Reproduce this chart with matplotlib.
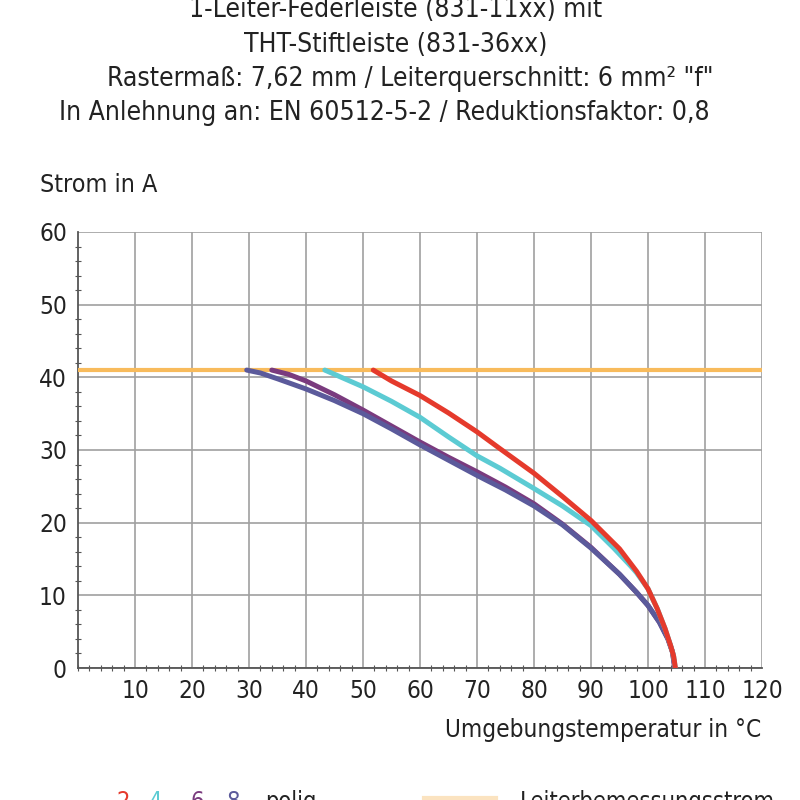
import matplotlib.pyplot as plt
from matplotlib.ticker import MultipleLocator

plt.rcParams['font.family'] = ['DejaVu Sans']
plt.rcParams['font.stretch'] = 'condensed'

# curve data (temperature in degC, current in A)
t_2pol = [51.8, 55, 60, 65, 70, 74, 80, 85, 90, 95, 98, 100, 101.6, 103, 104, 104.5, 104.8]
i_2pol = [41.0, 39.5, 37.5, 35.1, 32.5, 30.2, 26.8, 23.6, 20.3, 16.4, 13.3, 10.9, 8.2, 5.4, 3.0, 1.6, 0.0]

t_4pol = [43.3, 50, 55, 60, 65, 70, 74, 80, 85, 90, 94, 97, 98, 100, 101.6, 103, 104, 104.5, 104.8]
i_4pol = [41.0, 38.7, 36.7, 34.5, 31.8, 29.2, 27.5, 24.7, 22.3, 19.6, 16.5, 14.0, 13.1, 10.9, 8.2, 5.4, 3.0, 1.6, 0.0]

t_6pol = [34, 37, 40, 45, 50, 55, 60, 65, 70, 75, 80, 85, 90, 95, 98, 100, 102, 103.5, 104.3, 104.7]
i_6pol = [41.0, 40.4, 39.5, 37.6, 35.5, 33.3, 31.1, 29.0, 27.0, 24.9, 22.6, 19.8, 16.6, 12.9, 10.4, 8.6, 6.3, 4.0, 2.2, 0.0]

t_8pol = [29.6, 32, 35, 40, 45, 50, 55, 60, 65, 70, 75, 80, 85, 90, 95, 98, 100, 102, 103.5, 104.3, 104.7]
i_8pol = [41.0, 40.6, 39.8, 38.4, 36.8, 35.0, 32.9, 30.7, 28.6, 26.5, 24.5, 22.3, 19.7, 16.5, 12.9, 10.4, 8.6, 6.3, 4.0, 2.2, 0.0]

t_nenn = [0, 120]
i_nenn = [41, 41]

x_ticks = [10, 20, 30, 40, 50, 60, 70, 80, 90, 100, 110, 120]
y_ticks = [0, 10, 20, 30, 40, 50, 60]

title_lines = [
    '1-Leiter-Federleiste (831-11xx) mit',
    'THT-Stiftleiste (831-36xx)',
    'Rastermaß: 7,62 mm / Leiterquerschnitt: 6 mm² "f"',
    'In Anlehnung an: EN 60512-5-2 / Reduktionsfaktor: 0,8',
]
title_x = [0.494, 0.494, 0.5125, 0.48]
title_y = [0.988, 0.944, 0.901, 0.859]

c_red = '#e53a2c'
c_cyan = '#5ccbd3'
c_purple = '#7a3b7e'
c_navy = '#5b5a9b'
c_orange = '#f8bb5c'

fig = plt.figure(figsize=(8, 8), dpi=100)
ax = fig.add_axes([0.0975, 0.165, 0.855, 0.545])

ax.plot(t_nenn, i_nenn, color=c_orange, lw=3.0, zorder=3)
ax.plot(t_6pol, i_6pol, color=c_purple, lw=3.6, solid_capstyle='round', zorder=4)
ax.plot(t_8pol, i_8pol, color=c_navy, lw=3.6, solid_capstyle='round', zorder=5)
ax.plot(t_4pol, i_4pol, color=c_cyan, lw=3.6, solid_capstyle='round', zorder=6)
ax.plot(t_2pol, i_2pol, color=c_red, lw=3.6, solid_capstyle='round', zorder=7)

ax.set_xlim(0, 120)
ax.set_ylim(0, 60)
ax.set_xticks(x_ticks)
ax.set_yticks(y_ticks)
ax.xaxis.set_minor_locator(MultipleLocator(2))
ax.yaxis.set_minor_locator(MultipleLocator(2))
ax.grid(True, which='major', color='#a0a0a0', lw=1.2)
ax.set_axisbelow(True)
ax.tick_params(which='major', length=0, labelsize=17.5, pad=8, colors='#222222')
ax.tick_params(which='minor', length=4, direction='inout', color='#555555', width=0.8)
for s in ['top', 'right']:
    ax.spines[s].set_visible(False)
for s in ['left', 'bottom']:
    ax.spines[s].set_color('#555555')
    ax.spines[s].set_linewidth(1.3)

# titles
for k, line in enumerate(title_lines):
    fig.text(title_x[k], title_y[k], line, ha='center', va='center',
             fontsize=19, color='#222222')

fig.text(0.05, 0.769, 'Strom in A', ha='left', va='center', fontsize=18, color='#222222')
fig.text(0.952, 0.088, 'Umgebungstemperatur in °C', ha='right', va='center',
         fontsize=17.5, color='#222222')

# legend row at the bottom (cut off like the original)
leg_y = -0.002
fig.text(0.146, leg_y, '2-', color=c_red, fontsize=17, ha='left', va='center')
fig.text(0.186, leg_y, '4-', color=c_cyan, fontsize=17, ha='left', va='center')
fig.text(0.238, leg_y, '6-', color=c_purple, fontsize=17, ha='left', va='center')
fig.text(0.283, leg_y, '8-', color=c_navy, fontsize=17, ha='left', va='center')
fig.text(0.331, leg_y, 'polig', color='#222222', fontsize=17, ha='left', va='center')
fig.add_artist(plt.Line2D([0.53, 0.62], [0.003, 0.003], color='#fbe3c0', lw=3,
                          transform=fig.transFigure))
fig.text(0.65, leg_y, 'Leiterbemessungsstrom', color='#222222', fontsize=17,
         ha='left', va='center')

fig.savefig('out.png', dpi=100)
